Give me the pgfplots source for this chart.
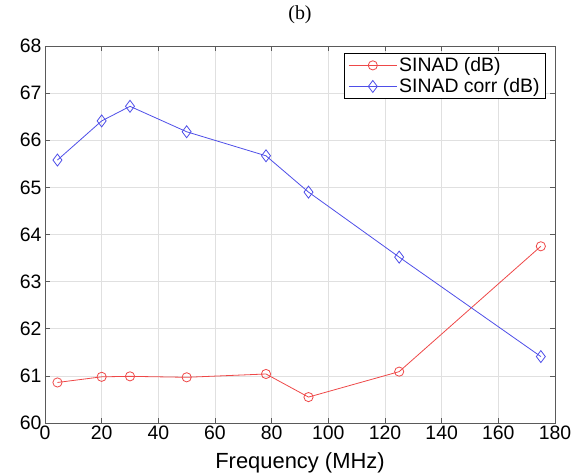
\documentclass[border=0pt]{standalone}
\usepackage{fontspec}
\setmainfont{Liberation Sans}
\newfontfamily\seriffont{Liberation Serif}
\usepackage{pgfplots}
\pgfplotsset{compat=1.18}
\definecolor{myred}{RGB}{238,72,72}
\definecolor{myblue}{RGB}{78,78,232}
\definecolor{axgray}{RGB}{90,90,90}
\begin{document}
\begin{tikzpicture}
\useasboundingbox (-45bp,-49.7bp) rectangle (536bp,423bp);
\begin{axis}[
  at={(0,0)}, anchor=south west,
  scale only axis, width=510bp, height=377bp,
  xmin=0, xmax=180, ymin=60, ymax=68,
  xtick={0,20,...,180}, ytick={60,61,...,68},
  grid=major, grid style={black!12, line width=0.6pt},
  axis line style={axgray, line width=0.8pt},
  tick style={axgray, line width=0.6pt},
  tick align=inside, major tick length=5bp,
  xtick pos=both, ytick pos=both,
  ticklabel style={font=\fontsize{19.5}{22}\selectfont, black},
  /pgf/number format/assume math mode=true,
  xticklabel style={yshift=1bp},
  yticklabel style={xshift=0bp},
  legend style={at={(0.982,0.982)}, anchor=north east,
    draw=black, line width=0.6pt, fill=white,
    font=\fontsize{19.5}{22}\selectfont, inner xsep=4bp, inner ysep=2.5bp,
    row sep=1.5bp},
  legend cell align=left,
  legend image code/.code={\draw[mark repeat=2,mark phase=2,#1] plot coordinates {(0bp,0bp)(24bp,0bp)(48bp,0bp)};},
  clip=false,
]
\addplot[myred, line width=0.8bp, mark=o, mark size=4.6bp, mark options={solid, fill=none}]
  coordinates {(4.4,60.86) (20,60.98) (30,60.99) (50,60.97) (78,61.04) (93,60.55) (125,61.09) (175,63.75)};
\addlegendentry{SINAD (dB)}
\addplot[myblue, line width=0.8bp, mark=diamond, mark size=6bp, mark options={solid, fill=none}]
  coordinates {(4.4,65.58) (20,66.41) (30,66.72) (50,66.18) (78,65.67) (93,64.90) (125,63.52) (175,61.41)};
\addlegendentry{SINAD corr (dB)}
\node[anchor=base, font=\seriffont\fontsize{20}{22}\selectfont] at (rel axis cs:0.5,1) [yshift=27bp] {(b)};
\node[anchor=base, font=\fontsize{22}{25}\selectfont] at (rel axis cs:0.5,0) [yshift=-45bp] {Frequency (MHz)};
\end{axis}
\end{tikzpicture}
\end{document}
